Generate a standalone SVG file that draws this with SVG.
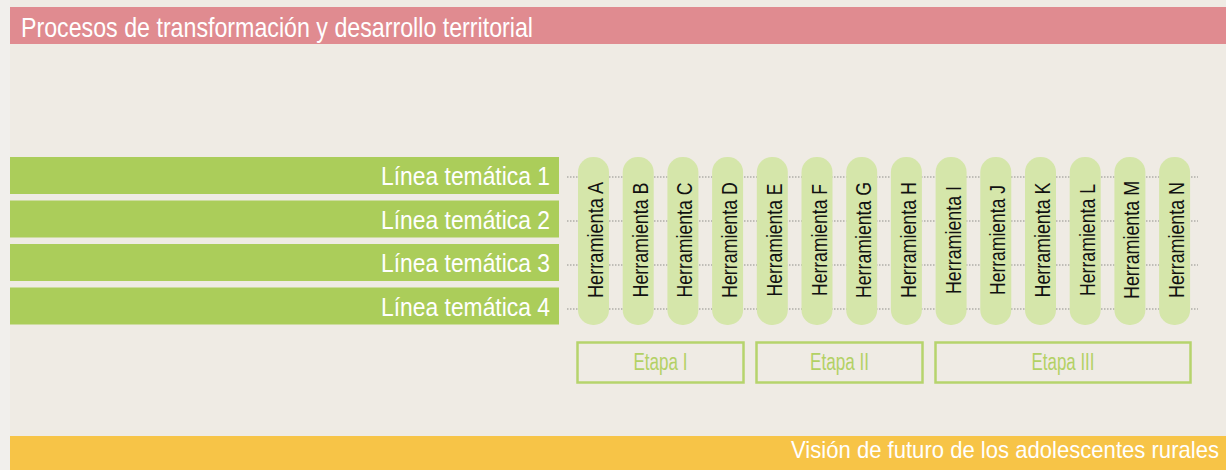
<svg xmlns="http://www.w3.org/2000/svg" width="1226" height="470" viewBox="0 0 1226 470">
<style>
.bar{fill:#abcd5a}
.bt{font-family:"Liberation Sans",Arial,sans-serif;font-size:26px;fill:#ffffff;text-anchor:end}
.pill{fill:#d5e6aa}
.pt{font-family:"Liberation Sans",Arial,sans-serif;font-size:21.5px;fill:#111111;text-anchor:middle}
.stage{fill:none;stroke:#b6d46c;stroke-width:2.5}
.st{font-family:"Liberation Sans",Arial,sans-serif;font-size:23px;fill:#b3d165;text-anchor:middle}
.dot{stroke:#8f8f8a;stroke-width:1;stroke-dasharray:1.5 1.5;fill:none}
.hd{font-family:"Liberation Sans",Arial,sans-serif;font-size:28px;fill:#ffffff}
.ft{font-family:"Liberation Sans",Arial,sans-serif;font-size:24px;fill:#ffffff;text-anchor:end}
</style>
<rect x="0" y="0" width="1226" height="470" fill="#f1efec"/>
<rect x="10" y="0" width="1216" height="470" fill="#efebe4"/>
<g id="header">
<rect x="10" y="7" width="1216" height="37" fill="#e08b90"/>
<text class="hd" x="21" y="37" textLength="512" lengthAdjust="spacingAndGlyphs">Procesos de transformación y desarrollo territorial</text>
</g>
<g id="footer">
<rect x="10" y="436" width="1216" height="34" fill="#f7c447"/>
<text class="ft" x="1219" y="458" textLength="428" lengthAdjust="spacingAndGlyphs">Visión de futuro de los adolescentes rurales</text>
</g>
<g id="connectors">
<line class="dot" x1="567" y1="177" x2="1198" y2="177"/>
<line class="dot" x1="567" y1="221" x2="1198" y2="221"/>
<line class="dot" x1="567" y1="265" x2="1198" y2="265"/>
<line class="dot" x1="567" y1="309" x2="1198" y2="309"/>
</g>
<g id="linea1"><rect class="bar" x="10" y="157" width="549" height="37"/><text class="bt" x="550" y="185" textLength="169" lengthAdjust="spacingAndGlyphs">Línea temática 1</text></g>
<g id="linea2"><rect class="bar" x="10" y="200.5" width="549" height="37"/><text class="bt" x="550" y="228.5" textLength="169" lengthAdjust="spacingAndGlyphs">Línea temática 2</text></g>
<g id="linea3"><rect class="bar" x="10" y="244" width="549" height="37"/><text class="bt" x="550" y="272" textLength="169" lengthAdjust="spacingAndGlyphs">Línea temática 3</text></g>
<g id="linea4"><rect class="bar" x="10" y="287.5" width="549" height="37"/><text class="bt" x="550" y="315.5" textLength="169" lengthAdjust="spacingAndGlyphs">Línea temática 4</text></g>
<g id="herrA"><rect class="pill" x="578" y="157" width="31" height="168" rx="15"/><text class="pt" transform="translate(603,240) rotate(-90)" textLength="116" lengthAdjust="spacingAndGlyphs">Herramienta A</text></g>
<g id="herrB"><rect class="pill" x="622.7" y="157" width="31" height="168" rx="15"/><text class="pt" transform="translate(647.7,240) rotate(-90)" textLength="115" lengthAdjust="spacingAndGlyphs">Herramienta B</text></g>
<g id="herrC"><rect class="pill" x="667.4" y="157" width="31" height="168" rx="15"/><text class="pt" transform="translate(692.4,240) rotate(-90)" textLength="115" lengthAdjust="spacingAndGlyphs">Herramienta C</text></g>
<g id="herrD"><rect class="pill" x="712.1" y="157" width="31" height="168" rx="15"/><text class="pt" transform="translate(737.1,240) rotate(-90)" textLength="116" lengthAdjust="spacingAndGlyphs">Herramienta D</text></g>
<g id="herrE"><rect class="pill" x="756.8" y="157" width="31" height="168" rx="15"/><text class="pt" transform="translate(781.8,240) rotate(-90)" textLength="113" lengthAdjust="spacingAndGlyphs">Herramienta E</text></g>
<g id="herrF"><rect class="pill" x="801.5" y="157" width="31" height="168" rx="15"/><text class="pt" transform="translate(826.5,240) rotate(-90)" textLength="112" lengthAdjust="spacingAndGlyphs">Herramienta F</text></g>
<g id="herrG"><rect class="pill" x="846.2" y="157" width="31" height="168" rx="15"/><text class="pt" transform="translate(871.2,240) rotate(-90)" textLength="116" lengthAdjust="spacingAndGlyphs">Herramienta G</text></g>
<g id="herrH"><rect class="pill" x="890.9" y="157" width="31" height="168" rx="15"/><text class="pt" transform="translate(915.9,240) rotate(-90)" textLength="116" lengthAdjust="spacingAndGlyphs">Herramienta H</text></g>
<g id="herrI"><rect class="pill" x="935.6" y="157" width="31" height="168" rx="15"/><text class="pt" transform="translate(960.6,240) rotate(-90)" textLength="108" lengthAdjust="spacingAndGlyphs">Herramienta I</text></g>
<g id="herrJ"><rect class="pill" x="980.3" y="157" width="31" height="168" rx="15"/><text class="pt" transform="translate(1005.3,240) rotate(-90)" textLength="110" lengthAdjust="spacingAndGlyphs">Herramienta J</text></g>
<g id="herrK"><rect class="pill" x="1025" y="157" width="31" height="168" rx="15"/><text class="pt" transform="translate(1050,240) rotate(-90)" textLength="115" lengthAdjust="spacingAndGlyphs">Herramienta K</text></g>
<g id="herrL"><rect class="pill" x="1069.7" y="157" width="31" height="168" rx="15"/><text class="pt" transform="translate(1094.7,240) rotate(-90)" textLength="112" lengthAdjust="spacingAndGlyphs">Herramienta L</text></g>
<g id="herrM"><rect class="pill" x="1114.4" y="157" width="31" height="168" rx="15"/><text class="pt" transform="translate(1139.4,240) rotate(-90)" textLength="118" lengthAdjust="spacingAndGlyphs">Herramienta M</text></g>
<g id="herrN"><rect class="pill" x="1159.1" y="157" width="31" height="168" rx="15"/><text class="pt" transform="translate(1184.1,240) rotate(-90)" textLength="116" lengthAdjust="spacingAndGlyphs">Herramienta N</text></g>
<g id="etapa1"><rect class="stage" x="577.5" y="342.5" width="166" height="40"/><text class="st" x="660.5" y="370" textLength="54" lengthAdjust="spacingAndGlyphs">Etapa I</text></g>
<g id="etapa2"><rect class="stage" x="756.5" y="342.5" width="166" height="40"/><text class="st" x="839.5" y="370" textLength="59" lengthAdjust="spacingAndGlyphs">Etapa II</text></g>
<g id="etapa3"><rect class="stage" x="935.5" y="342.5" width="255" height="40"/><text class="st" x="1063" y="370" textLength="63" lengthAdjust="spacingAndGlyphs">Etapa III</text></g>
</svg>
